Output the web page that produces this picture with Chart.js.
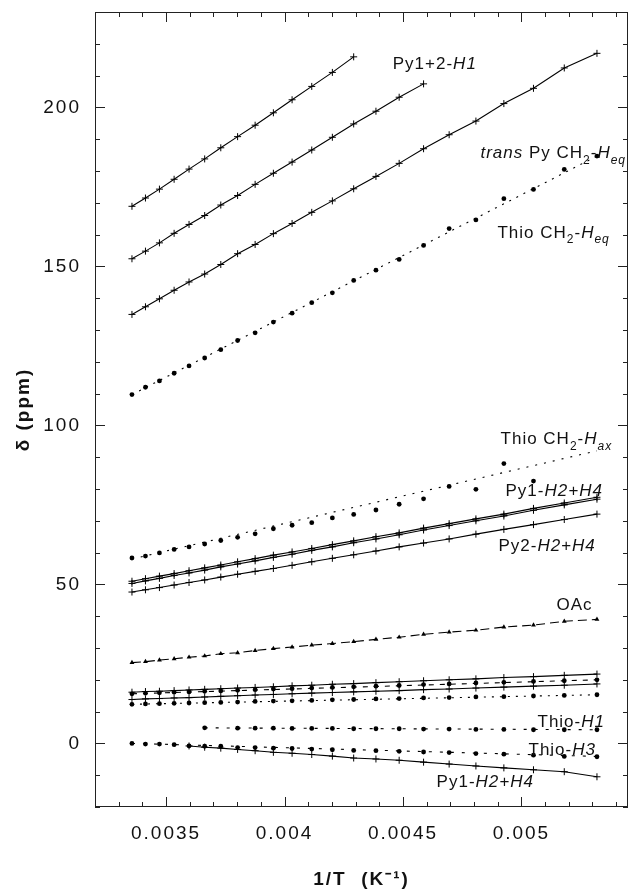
<!DOCTYPE html>
<html>
<head>
<meta charset="utf-8">
<script src="https://cdn.jsdelivr.net/npm/chart.js@4.4.1/dist/chart.umd.min.js"></script>
<style>
  body { margin: 0; background: #fff; }
  canvas { display: block; }
</style>
</head>
<body>
<canvas id="nmr" width="633" height="893"></canvas>
<script>
// 1/T (K^-1), 298 K down to 188 K
const invT = [0.003356, 0.003413, 0.003472, 0.003534, 0.003597, 0.003663, 0.003731, 0.003802,
  0.003876, 0.003953, 0.004032, 0.004115, 0.004202, 0.004292, 0.004386, 0.004484, 0.004587,
  0.004695, 0.004808, 0.004926, 0.005051, 0.005181, 0.005319];

// solid lines, "+" markers
const py12H1 = [168.9, 171.5, 174.3, 177.4, 180.6, 183.8, 187.3, 190.8, 194.4, 198.3, 202.4, 206.6,
  211.0, 215.9, null, null, null, null, null, null, null, null, null];
const pyUpper2 = [152.4, 154.8, 157.4, 160.4, 163.2, 166.0, 169.3, 172.3, 175.8, 179.3, 182.8, 186.6,
  190.6, 194.8, 198.8, 203.2, 207.4, null, null, null, null, null, null];
const transPyEq = [134.9, 137.3, 139.8, 142.5, 145.1, 147.6, 150.6, 154.0, 156.9, 160.3, 163.5, 167.0,
  170.6, 174.4, 178.3, 182.4, 187.0, 191.4, 195.7, 201.2, 206.0, 212.4, 217.0];
const py1H24a = [51.0, 51.8, 52.6, 53.4, 54.3, 55.2, 56.1, 57.1, 58.1, 59.2, 60.2, 61.3, 62.5, 63.7,
  65.0, 66.2, 67.7, 69.1, 70.6, 72.1, 73.9, 75.6, 77.4];
const py1H24b = [50.3, 51.1, 51.9, 52.8, 53.6, 54.5, 55.5, 56.4, 57.4, 58.5, 59.5, 60.7, 61.8, 63.1,
  64.3, 65.6, 67.1, 68.5, 70.0, 71.5, 73.3, 75.0, 76.8];
const py2H24 = [47.6, 48.3, 49.0, 49.8, 50.6, 51.4, 52.3, 53.2, 54.1, 55.0, 56.0, 57.1, 58.2, 59.3,
  60.5, 61.8, 63.0, 64.3, 65.8, 67.3, 68.8, 70.4, 72.1];
const clusterTop = [16.1, 16.3, 16.4, 16.6, 16.8, 17.0, 17.2, 17.4, 17.6, 17.8, 18.1, 18.3, 18.6,
  18.8, 19.1, 19.4, 19.7, 20.0, 20.3, 20.7, 21.0, 21.4, 21.8];
const clusterLow = [13.8, 14.0, 14.1, 14.3, 14.4, 14.6, 14.8, 15.0, 15.2, 15.4, 15.6, 15.8, 16.0,
  16.2, 16.4, 16.6, 16.9, 17.1, 17.4, 17.7, 18.0, 18.3, 18.7];
const py1H24low = [null, null, null, null, -0.8, -1.2, -1.5, -1.9, -2.3, -2.8, -3.1, -3.5, -4.0,
  -4.6, -4.9, -5.3, -5.9, -6.5, -7.1, -7.7, -8.3, -8.9, -10.5];

// dotted series, filled dots
const thioEq = [109.7, 112.0, 114.0, 116.4, 118.7, 121.2, 123.8, 126.7, 129.1, 132.5, 135.3, 138.6,
  141.7, 145.6, 148.8, 152.2, 156.6, 161.9, 164.6, 171.3, 174.2, 180.5, 184.7];
const thioAx = [58.3, 58.9, 59.9, 61.0, 61.8, 62.7, 63.8, 64.8, 65.9, 67.5, 68.6, 69.4, 70.9, 72.0,
  73.4, 75.2, 76.9, 80.8, 79.9, 88.0, 82.5, null, null];
const clusterDash = [15.6, 15.8, 15.9, 16.1, 16.2, 16.4, 16.5, 16.7, 16.9, 17.1, 17.2, 17.4, 17.6,
  17.8, 18.0, 18.2, 18.5, 18.7, 19.0, 19.2, 19.5, 19.7, 20.0];
const clusterDot = [12.3, 12.4, 12.5, 12.6, 12.7, 12.8, 12.9, 13.0, 13.2, 13.3, 13.4, 13.5, 13.7,
  13.8, 14.0, 14.1, 14.3, 14.4, 14.6, 14.7, 14.9, 15.1, 15.3];
const thioH1 = [null, null, null, null, null, 4.9, null, 4.8, 4.8, 4.8, 4.7, 4.7, 4.7, 4.6, 4.6, 4.6,
  4.5, 4.5, 4.4, 4.4, 4.3, 4.3, 4.3];
const thioH3 = [0.0, -0.2, -0.2, -0.4, -0.8, -0.9, -0.9, -1.3, -1.3, -1.5, -1.6, -1.8, -2.0, -2.2,
  -2.3, -2.5, -2.7, -2.9, -3.2, -3.4, -3.7, -4.1, -4.2];

// OAc, triangles on a dashed line
const oac = [25.4, 25.7, 26.2, 26.6, 27.1, 27.5, 28.2, 28.5, 29.2, 29.8, 30.3, 30.9, 31.4, 32.0,
  32.7, 33.4, 34.3, 35.0, 35.6, 36.6, 37.2, 38.4, 39.0];

// fitted lines for dotted series: [x, y] at both ends
const thioEqFit = [[0.003356, 109.7], [0.005319, 184.7]];
const thioAxFit = [[0.003356, 58.0], [0.005319, 92.0]];
const clusterDashFit = [[0.003356, 15.6], [0.005319, 20.0]];
const clusterDotFit = [[0.003356, 12.3], [0.005319, 15.3]];
const thioH1Fit = [[0.003663, 4.9], [0.005319, 4.3]];
const thioH3Fit = [[0.003356, 0.0], [0.005319, -4.1]];

const xTicks = [0.0035, 0.004, 0.0045, 0.005];
const yTicks = [0, 50, 100, 150, 200];

const FONT = '"Liberation Sans", Arial, Helvetica, sans-serif';

function pts(arr) {
  return invT.map((x, i) => ({ x: x, y: arr[i] })).filter(p => p.y !== null);
}
function fitPts(f) {
  return f.map(p => ({ x: p[0], y: p[1] }));
}
function solid(arr) {
  return { data: pts(arr), showLine: true, borderColor: '#000', borderWidth: 1.1,
    pointStyle: 'cross', pointRadius: 3.5, pointBorderColor: '#000', pointBorderWidth: 1 };
}
function dots(arr) {
  return { data: pts(arr), showLine: false, pointStyle: 'circle', pointRadius: 2.4,
    pointBackgroundColor: '#000', pointBorderColor: '#000', pointBorderWidth: 0 };
}
function fit(f, dash) {
  return { data: fitPts(f), showLine: true, borderColor: '#000', borderWidth: 1.1,
    borderDash: dash, pointRadius: 0 };
}

const labels = [
  { x: 0.004457, y: 212, segs: [{ t: 'Py1+2-' }, { t: 'H1', it: 1 }] },
  { x: 0.004827, y: 184, segs: [{ t: 'trans', it: 1 }, { t: ' Py CH' }, { t: '2', sub: 1 }, { t: '-' }, { t: 'H', it: 1 }, { t: 'eq', it: 1, sub: 1 }] },
  { x: 0.004899, y: 159, segs: [{ t: 'Thio CH' }, { t: '2', sub: 1 }, { t: '-' }, { t: 'H', it: 1 }, { t: 'eq', it: 1, sub: 1 }] },
  { x: 0.004912, y: 94, segs: [{ t: 'Thio CH' }, { t: '2', sub: 1 }, { t: '-' }, { t: 'H', it: 1 }, { t: 'ax', it: 1, sub: 1 }] },
  { x: 0.004933, y: 77.7, segs: [{ t: 'Py1-' }, { t: 'H2+H4', it: 1 }] },
  { x: 0.004903, y: 60.4, segs: [{ t: 'Py2-' }, { t: 'H2+H4', it: 1 }] },
  { x: 0.005148, y: 41.8, segs: [{ t: 'OAc' }] },
  { x: 0.005068, y: 5.3, segs: [{ t: 'Thio-' }, { t: 'H1', it: 1 }] },
  { x: 0.00503, y: -3.8, segs: [{ t: 'Thio-' }, { t: 'H3', it: 1 }] },
  { x: 0.004642, y: -13.8, segs: [{ t: 'Py1-' }, { t: 'H2+H4', it: 1 }] }
];

const frameAndLabels = {
  id: 'frameAndLabels',
  beforeDraw(chart) {
    chart.ctx.letterSpacing = '2px';
  },
  afterDraw(chart) {
    const { ctx, chartArea: { left, right, top, bottom }, scales: { x, y } } = chart;
    ctx.save();
    ctx.strokeStyle = '#222';
    ctx.lineWidth = 1;
    ctx.strokeRect(left + 0.5, top + 0.5, right - left - 1, bottom - top - 1);
    ctx.beginPath();
    for (let v = -20; v <= 230; v += 10) {
      const py = Math.round(y.getPixelForValue(v)) + 0.5;
      const len = v % 50 === 0 ? 10 : 5;
      ctx.moveTo(left, py); ctx.lineTo(left + len, py);
      ctx.moveTo(right, py); ctx.lineTo(right - len, py);
    }
    for (let k = 33; k <= 54; k++) {
      const px = Math.round(x.getPixelForValue(k / 10000)) + 0.5;
      const len = k % 5 === 0 ? 10 : 5;
      ctx.moveTo(px, bottom); ctx.lineTo(px, bottom - len);
      ctx.moveTo(px, top); ctx.lineTo(px, top + len);
    }
    ctx.stroke();

    ctx.fillStyle = '#111';
    ctx.letterSpacing = '1px';
    ctx.textBaseline = 'alphabetic';
    ctx.textAlign = 'left';
    const size = 17;
    labels.forEach(l => {
      let cx = x.getPixelForValue(l.x);
      const cy = y.getPixelForValue(l.y);
      l.segs.forEach(s => {
        const fs = s.sub ? Math.round(size * 0.72) : size;
        ctx.font = (s.it ? 'italic ' : '') + fs + 'px ' + FONT;
        ctx.fillText(s.t, cx, cy + (s.sub ? size * 0.32 : 0));
        cx += ctx.measureText(s.t).width;
      });
    });
    ctx.restore();
  }
};

new Chart(document.getElementById('nmr'), {
  type: 'scatter',
  data: {
    datasets: [
      solid(py12H1), solid(pyUpper2), solid(transPyEq),
      solid(py1H24a), solid(py1H24b), solid(py2H24),
      solid(clusterTop), solid(clusterLow), solid(py1H24low),
      dots(thioEq), fit(thioEqFit, [2, 6]),
      dots(thioAx), fit(thioAxFit, [2, 7]),
      dots(clusterDash), fit(clusterDashFit, [5, 6]),
      dots(clusterDot), fit(clusterDotFit, [2, 6]),
      dots(thioH1), fit(thioH1Fit, [3, 8]),
      dots(thioH3), fit(thioH3Fit, [3, 8]),
      { data: pts(oac), showLine: true, borderColor: '#000', borderWidth: 1.1, borderDash: [9, 5],
        pointStyle: 'triangle', pointRadius: 2.8, pointBackgroundColor: '#000', pointBorderWidth: 0 }
    ]
  },
  options: {
    responsive: false,
    animation: false,
    devicePixelRatio: 1,
    events: [],
    layout: { padding: { left: 0, right: 5, top: 12, bottom: 0 } },
    plugins: { legend: { display: false }, tooltip: { enabled: false } },
    scales: {
      x: {
        type: 'linear', min: 0.0032, max: 0.00545,
        afterBuildTicks: s => { s.ticks = xTicks.map(v => ({ value: v })); },
        afterFit: s => { s.height = 86; s.paddingLeft = 0; s.paddingRight = 0; },
        grid: { display: false, drawTicks: false },
        border: { display: false },
        ticks: { color: '#111', padding: 15, maxRotation: 0, autoSkip: false,
          font: { family: FONT, size: 19 }, callback: v => String(v) },
        title: { display: true, text: '1/T  (K\u207B\u00B9)', color: '#111',
          font: { family: FONT, size: 19, weight: 'bold' }, padding: { top: 0, bottom: 2 } }
      },
      y: {
        type: 'linear', min: -20, max: 230,
        afterBuildTicks: s => { s.ticks = yTicks.map(v => ({ value: v })); },
        afterFit: s => { s.width = 95; s.paddingTop = 0; s.paddingBottom = 0; },
        grid: { display: false, drawTicks: false },
        border: { display: false },
        ticks: { color: '#111', padding: 14, font: { family: FONT, size: 19 } },
        title: { display: true, text: '\u03B4 (ppm)', color: '#111',
          font: { family: FONT, size: 19, weight: 'bold' }, padding: { top: 12, bottom: 0 } }
      }
    }
  },
  plugins: [frameAndLabels]
});
</script>
</body>
</html>
